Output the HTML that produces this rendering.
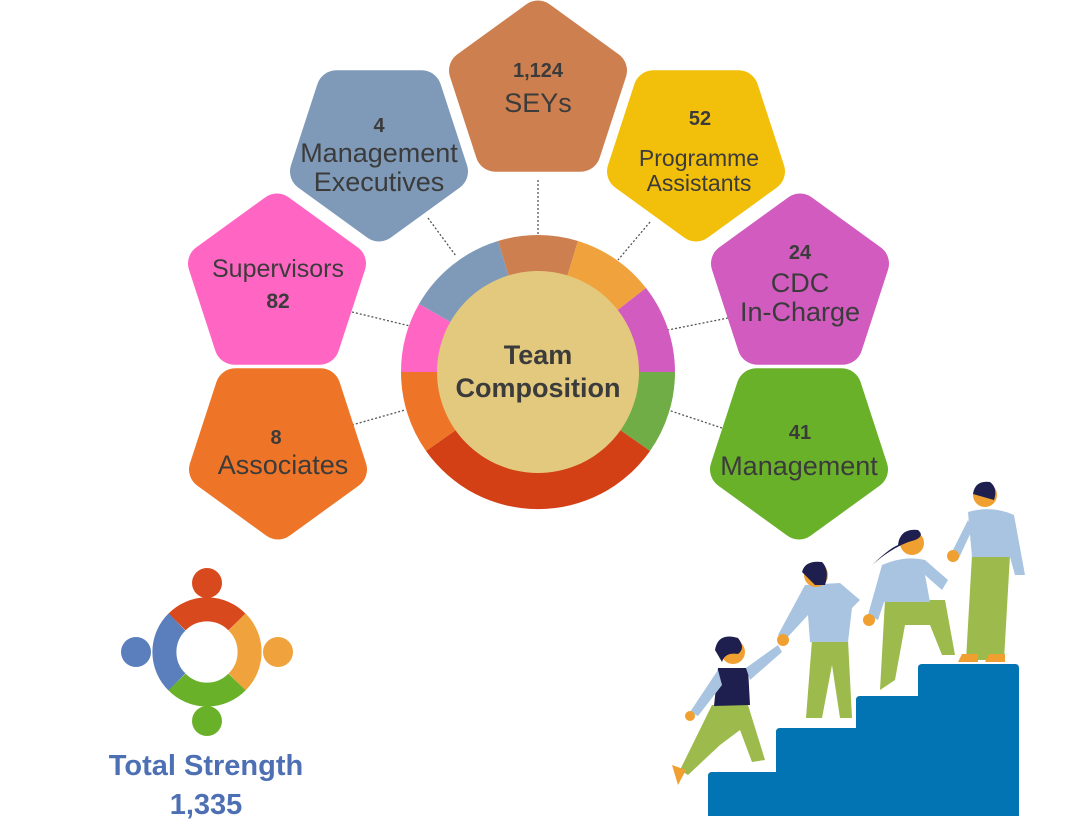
<!DOCTYPE html>
<html><head><meta charset="utf-8"><style>
html,body{margin:0;padding:0;background:#fff;}
svg{display:block;}
text{font-family:"Liberation Sans",sans-serif;fill:#3b3b3b;text-anchor:middle;}
.b{font-weight:bold;}
</style></head><body>
<svg width="1067" height="823" viewBox="0 0 1067 823" xmlns="http://www.w3.org/2000/svg">
<defs>
<polygon id="up" points="0,-72.5 69,-22.4 42.6,58.7 -42.6,58.7 -69,-22.4"/>
<polygon id="dn" points="0,72.5 69,22.4 42.6,-58.7 -42.6,-58.7 -69,22.4"/>
</defs>
<g stroke-dasharray="2,2" stroke="#555" stroke-width="1.3">
<line x1="538" y1="180" x2="538" y2="237"/>
<line x1="428" y1="218" x2="456" y2="256"/>
<line x1="650" y1="222" x2="618" y2="260"/>
<line x1="352" y1="312" x2="410" y2="326"/>
<line x1="728" y1="318" x2="668" y2="330"/>
<line x1="352" y1="425" x2="405" y2="410"/>
<line x1="722" y1="428" x2="668" y2="410"/>
</g>
<g stroke-linejoin="round" stroke-width="40">
<use href="#up" x="538" y="93" fill="#CD7F4F" stroke="#CD7F4F"/>
<use href="#dn" x="379" y="149" fill="#7F9AB8" stroke="#7F9AB8"/>
<use href="#dn" x="696" y="149" fill="#F2BF0A" stroke="#F2BF0A"/>
<use href="#up" x="277" y="286" fill="#FF66C4" stroke="#FF66C4"/>
<use href="#up" x="800" y="286" fill="#D15BBF" stroke="#D15BBF"/>
<use href="#dn" x="278" y="447" fill="#EE7528" stroke="#EE7528"/>
<use href="#dn" x="799" y="447" fill="#6AB12A" stroke="#6AB12A"/>
</g>
<g transform="translate(538,372)">
<path d="M0,0 L-40,-131 A137,137 0 0 1 40,-131 Z" fill="#CD7F4F"/>
<path d="M0,0 L40,-131 A137,137 0 0 1 108,-84 Z" fill="#F0A23C"/>
<path d="M0,0 L108,-84 A137,137 0 0 1 137,0 Z" fill="#D15BBF"/>
<path d="M0,0 L137,0 A137,137 0 0 1 112,79 Z" fill="#70AD47"/>
<path d="M0,0 L112,79 A137,137 0 0 1 -112,79 Z" fill="#D34016"/>
<path d="M0,0 L-112,79 A137,137 0 0 1 -137,0 Z" fill="#EE7528"/>
<path d="M0,0 L-137,0 A137,137 0 0 1 -119,-68 Z" fill="#FF66C4"/>
<path d="M0,0 L-119,-68 A137,137 0 0 1 -40,-131 Z" fill="#7F9AB8"/>
<circle r="101" fill="#E3C97E"/>
</g>
<text x="538" y="364" class="b" font-size="27">Team</text>
<text x="538" y="397" class="b" font-size="27">Composition</text>
<text x="538" y="77" class="b" font-size="20">1,124</text>
<text x="538" y="112" font-size="27">SEYs</text>
<text x="379" y="132" class="b" font-size="20">4</text>
<text x="379" y="162" font-size="27">Management</text>
<text x="379" y="191" font-size="27">Executives</text>
<text x="700" y="125" class="b" font-size="20">52</text>
<text x="699" y="166" font-size="23">Programme</text>
<text x="699" y="191" font-size="23">Assistants</text>
<text x="278" y="277" font-size="25">Supervisors</text>
<text x="278" y="308" class="b" font-size="21">82</text>
<text x="800" y="259" class="b" font-size="20">24</text>
<text x="800" y="292" font-size="27">CDC</text>
<text x="800" y="321" font-size="27">In-Charge</text>
<text x="276" y="444" class="b" font-size="20">8</text>
<text x="283" y="474" font-size="27">Associates</text>
<text x="800" y="439" class="b" font-size="20">41</text>
<text x="799" y="475" font-size="27">Management</text>
<g transform="translate(207,652)" fill="none" stroke-width="24">
<path d="M-30,-30 A42,42 0 0 1 30,-30" stroke="#D84A1E"/>
<path d="M-30,30 A42,42 0 0 1 -30,-30" stroke="#5B7EBD"/>
<path d="M30,-30 A42,42 0 0 1 30,30" stroke="#F0A23C"/>
<path d="M30,30 A42,42 0 0 1 -30,30" stroke="#6AB12A"/>
</g>
<circle cx="207" cy="583" r="15" fill="#D84A1E"/>
<circle cx="136" cy="652" r="15" fill="#5B7EBD"/>
<circle cx="278" cy="652" r="15" fill="#F0A23C"/>
<circle cx="207" cy="721" r="15" fill="#6AB12A"/>
<text x="206" y="775" class="b" font-size="29" style="fill:#4D6FB3">Total Strength</text>
<text x="206" y="814" class="b" font-size="29" style="fill:#4D6FB3">1,335</text>
<path d="M708,776 q0,-4 4,-4 H776 V732 q0,-4 4,-4 H856 V700 q0,-4 4,-4 H918 V668 q0,-4 4,-4 H1015 q4,0 4,4 V816 H708 Z" fill="#0274B4"/>
<g>
<path d="M966,660 L972,555 L1010,555 L1004,660 Z" fill="#9CBB4C"/>
<path d="M968,512 Q992,505 1014,515 L1025,575 L1015,575 L1010,557 L972,557 Z" fill="#A8C4E0"/>
<path d="M968,520 L950,556 L958,560 L972,530 Z" fill="#A8C4E0"/>
<circle cx="985" cy="495" r="12" fill="#F0A030"/>
<path d="M973,494 Q975,480 990,482 Q998,488 994,500 Z" fill="#1E1F4F"/>
<path d="M958,662 h20 v-8 h-16 Z M985,662 h20 v-8 h-16 Z" fill="#F0A030"/>
<path d="M880,690 L885,600 L945,600 L955,655 L942,655 L930,625 L905,625 L895,680 Z" fill="#9CBB4C"/>
<path d="M882,565 Q905,555 925,560 L948,580 L942,590 L925,575 L930,602 L884,602 L878,620 L868,615 Z" fill="#A8C4E0"/>
<circle cx="912" cy="543" r="12" fill="#F0A030"/>
<path d="M898,545 Q900,528 918,530 Q925,536 915,540 Q895,545 872,565 Q890,548 898,545 Z" fill="#1E1F4F"/>
<circle cx="953" cy="556" r="6" fill="#F0A030"/>
<path d="M806,718 L812,640 L848,640 L852,718 L840,718 L832,665 L822,718 Z" fill="#9CBB4C"/>
<path d="M805,585 L840,583 L860,600 L852,608 L848,642 L810,642 L808,615 L785,640 L778,635 Z" fill="#A8C4E0"/>
<circle cx="816" cy="575" r="12" fill="#F0A030"/>
<path d="M802,572 Q805,560 822,562 Q830,570 825,585 L815,585 Z" fill="#1E1F4F"/>
<circle cx="869" cy="620" r="6" fill="#F0A030"/>
<circle cx="783" cy="640" r="6" fill="#F0A030"/>
<path d="M680,770 L712,705 L748,705 L765,760 L752,762 L740,730 L720,745 L688,775 Z" fill="#9CBB4C"/>
<path d="M718,668 L748,668 L750,705 L714,706 Z" fill="#1E1F4F"/>
<path d="M718,670 L690,712 L698,716 L722,685 Z M746,668 L778,645 L782,652 L750,680 Z" fill="#A8C4E0"/>
<circle cx="733" cy="652" r="12" fill="#F0A030"/>
<path d="M715,650 Q718,632 738,638 Q746,648 738,654 Q725,652 722,662 Z" fill="#1E1F4F"/>
<path d="M672,765 L686,770 L678,785 Z" fill="#F0A030"/>
<circle cx="690" cy="716" r="5" fill="#F0A030"/>
</g>
</svg>
</body></html>
